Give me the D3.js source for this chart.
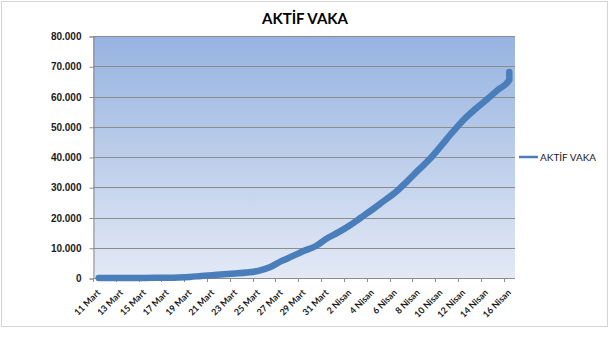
<!DOCTYPE html>
<html><head><meta charset="utf-8">
<script src="https://cdn.jsdelivr.net/npm/d3@7"></script>
<style>body{margin:0;background:#fff;}svg{display:block;font-family:Lato,"Open Sans",sans-serif;}</style>
</head><body>
<script>
const categories = ["11 Mart","12 Mart","13 Mart","14 Mart","15 Mart","16 Mart","17 Mart","18 Mart","19 Mart","20 Mart","21 Mart","22 Mart","23 Mart","24 Mart","25 Mart","26 Mart","27 Mart","28 Mart","29 Mart","30 Mart","31 Mart","1 Nisan","2 Nisan","3 Nisan","4 Nisan","5 Nisan","6 Nisan","7 Nisan","8 Nisan","9 Nisan","10 Nisan","11 Nisan","12 Nisan","13 Nisan","14 Nisan","15 Nisan","16 Nisan"];
// series: category of each point and its value (last category appears twice)
const pointCats = categories.concat(["16 Nisan"]);
const activeCases = [1,1,5,6,18,47,98,189,356,661,926,1206,1492,1828,2348,3528,5564,7224,8981,10497,13074,15069,17364,20012,22647,25453,28242,31802,35568,39232,43600,48101,52312,55796,58909,62200,65461,68100];
const yTicks = [0,10000,20000,30000,40000,50000,60000,70000,80000];
const seriesName = "AKTİF VAKA";
const title = "AKTİF VAKA";

const W = 614, H = 351;
const plot = {left:93, right:515, top:36, bottom:278};
const svg = d3.select("body").append("svg").attr("width",W).attr("height",H);

// outer border
svg.append("rect").attr("x",1.5).attr("y",1.5).attr("width",606).attr("height",325)
  .attr("fill","#fff").attr("stroke","#d4d4d4").attr("stroke-width",1);

const defs = svg.append("defs");
const grad = defs.append("linearGradient").attr("id","bg").attr("x1",0).attr("y1",0).attr("x2",0).attr("y2",1);
grad.append("stop").attr("offset","0%").attr("stop-color","#96b3e0");
grad.append("stop").attr("offset","100%").attr("stop-color","#e3e9f5");

const x = d3.scaleBand().domain(categories).range([plot.left, plot.right]).padding(0);
const xc = c => x(c) + x.bandwidth()/2;
const y = d3.scaleLinear().domain([0,80000]).range([plot.bottom, plot.top]);

svg.append("rect").attr("x",plot.left).attr("y",plot.top)
  .attr("width",plot.right-plot.left).attr("height",plot.bottom-plot.top).attr("fill","url(#bg)");

// gridlines
svg.append("g").selectAll("line").data(yTicks.filter(d=>d>0)).join("line")
  .attr("x1",plot.left).attr("x2",plot.right)
  .attr("y1",d=>Math.round(y(d))+0.5).attr("y2",d=>Math.round(y(d))+0.5)
  .attr("stroke","#8c8c8c").attr("stroke-width",1);

// y axis
const fmt = d => d3.format(",")(d).replace(/,/g,".");
const yAxis = d3.axisLeft(y).tickValues(yTicks).tickSize(4).tickFormat(fmt).tickPadding(8);
const gy = svg.append("g").attr("transform",`translate(${plot.left+0.5},0.5)`).call(yAxis);
gy.select(".domain").attr("stroke","#8c8c8c");
gy.selectAll(".tick line").attr("stroke","#8c8c8c");
gy.selectAll("text").attr("font-size","10px").attr("font-weight","bold").attr("fill","#1a1a1a");

// x axis with ticks at category boundaries every 2 categories
const gx = svg.append("g");
gx.append("line").attr("x1",plot.left).attr("x2",plot.right)
  .attr("y1",plot.bottom+0.5).attr("y2",plot.bottom+0.5).attr("stroke","#8c8c8c");
const labelCats = categories.filter((c,i)=>i%2===0);
gx.selectAll("line.tk").data(labelCats).join("line").attr("class","tk")
  .attr("x1",d=>Math.round(x(d))+0.5).attr("x2",d=>Math.round(x(d))+0.5)
  .attr("y1",plot.bottom).attr("y2",plot.bottom+4).attr("stroke","#8c8c8c");
gx.selectAll("text").data(labelCats).join("text")
  .attr("transform",d=>`translate(${xc(d)},${plot.bottom+13}) rotate(-45)`)
  .attr("text-anchor","end").attr("dy","0.35em")
  .attr("font-size","9px").attr("font-weight","bold").attr("fill","#1a1a1a")
  .text(d=>d);

// line
const pts = pointCats.map((c,i)=>({c, v:activeCases[i]}));
svg.append("path").datum(pts)
  .attr("d", d3.line().x(d=>xc(d.c)).y(d=>y(d.v)).curve(d3.curveMonotoneX))
  .attr("fill","none").attr("stroke","#4a7ebb").attr("stroke-width",6.5)
  .attr("stroke-linejoin","round").attr("stroke-linecap","round");

// title
svg.append("text").attr("x",305).attr("y",24).attr("text-anchor","middle")
  .attr("font-size","15px").attr("font-weight","bold").attr("fill","#000").text(title);

// legend
svg.append("line").attr("x1",519).attr("x2",538).attr("y1",157).attr("y2",157)
  .attr("stroke","#4a7ebb").attr("stroke-width",2.5);
svg.append("text").attr("x",540).attr("y",157).attr("dy","0.35em")
  .attr("font-size","10px").attr("fill","#1a1a1a").text(seriesName);
</script>
</body></html>
